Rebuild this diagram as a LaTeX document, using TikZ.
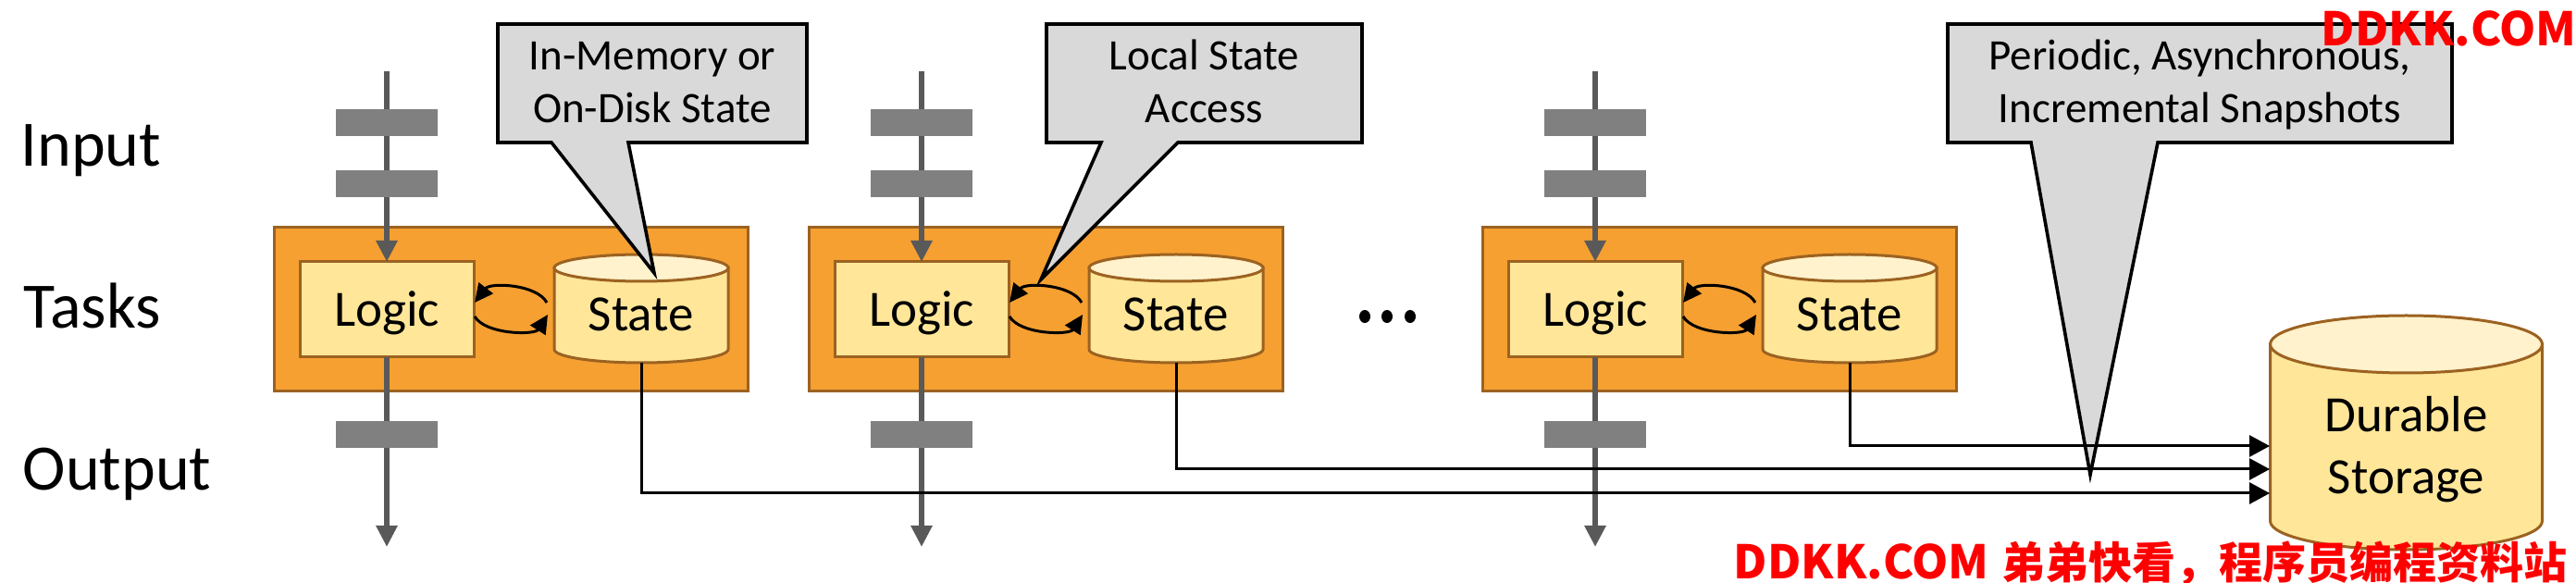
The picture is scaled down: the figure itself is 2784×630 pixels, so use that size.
\documentclass[tikz,border=0pt]{standalone}
\usepackage{fontspec}
\setmainfont{Carlito}
\newfontfamily\cjk{Noto Sans CJK SC}
\usetikzlibrary{arrows.meta}
\definecolor{taskfill}{HTML}{F5A031}
\definecolor{brownline}{HTML}{9C6221}
\definecolor{lightyellow}{HTML}{FFE699}
\definecolor{paleyellow}{HTML}{FFF2CC}
\definecolor{calloutgray}{HTML}{D9D9D9}
\definecolor{bargray}{HTML}{808080}
\definecolor{flowgray}{HTML}{595959}
\definecolor{wmred}{HTML}{FF0000}

% cylinder: centre x, top-ellipse centre y, x radius, y radius, bottom-ellipse centre y
\newcommand{\drum}[5]{%
  \filldraw[drumbody] (#1-#3,#2) -- (#1-#3,#5)
     arc[start angle=180,end angle=0,x radius=#3,y radius=#4] -- (#1+#3,#2) -- cycle;
  \filldraw[drumtop] (#1,#2) ellipse[x radius=#3,y radius=#4];
}

% one task: #1 = left x of the task box, #2 = index
\newcommand{\taskunit}[2]{%
  \pgfmathsetmacro{\tl}{#1}
  \pgfmathsetmacro{\tr}{#1+512}
  \pgfmathsetmacro{\lc}{#1+122}
  \pgfmathsetmacro{\sc}{#1+397}
  \filldraw[taskbox] (\tl,246) rectangle (\tr,423);
  \node[logicbox] (L#2) at (\lc,334.5) {Logic};
  \drum{\sc}{289.5}{94}{14.5}{377.5}
  \node[bigtext, anchor=base] (S#2) at (\sc,358) {State};
  \coordinate (S#2b) at (\sc,392);
  \coordinate (I#2) at (\lc,77);
  \coordinate (O#2) at (\lc,591);
  \coordinate (U#2a) at (#1+295,327);
  \coordinate (U#2b) at (#1+217,327);
  \coordinate (W#2a) at (#1+217,342);
  \coordinate (W#2b) at (#1+296,340);
  \draw[loop] (U#2a) .. controls (#1+284,307) and (#1+234,305) .. (U#2b);
  \draw[loop] (W#2a) .. controls (#1+229,362) and (#1+282,362) .. (W#2b);
  \draw[flow] (I#2) -- (L#2.north);
  \draw[flow] (L#2.south) -- (O#2);
  \fill[bargray] (\lc-55,118) rectangle (\lc+55,147);
  \fill[bargray] (\lc-55,184) rectangle (\lc+55,213);
  \fill[bargray] (\lc-55,455) rectangle (\lc+55,484);
}

\begin{document}
\begin{tikzpicture}[x=0.25pt,y=-0.25pt,
  taskbox/.style={draw=brownline, fill=taskfill, line width=0.75pt},
  logicbox/.style={draw=brownline, fill=lightyellow, line width=0.75pt,
     minimum width=47pt, minimum height=25.75pt, inner sep=0pt, outer sep=0pt,
     text height=8.9pt, text depth=0pt, font=\fontsize{13.75}{16}\selectfont},
  bigtext/.style={inner sep=0pt, font=\fontsize{13.75}{16}\selectfont},
  drumbody/.style={draw=brownline, fill=lightyellow, line width=0.75pt},
  drumtop/.style={draw=brownline, fill=paleyellow, line width=0.75pt},
  loop/.style={draw=black, line width=0.75pt, -{Triangle[length=5pt,width=4.8pt]}},
  flow/.style={draw=flowgray, line width=1.5pt, -{Triangle[length=5.75pt,width=5.5pt]}},
  callout/.style={draw=black, fill=calloutgray, line width=0.9pt, line join=miter},
  callouttext/.style={inner sep=0pt, align=center, font=\fontsize{11.75}{14.25}\selectfont},
  snap/.style={draw=black, line width=0.75pt, -{Triangle[length=5.5pt,width=5.75pt]}},
  lab/.style={inner sep=0pt, font=\fontsize{17.5}{20}\selectfont},
  wm/.style={inner sep=0pt, text=wmred, font=\cjk\bfseries\fontsize{12.5}{13}\selectfont},
  wmc/.style={inner sep=0pt, text=wmred, font=\cjk\bfseries\fontsize{11.75}{12}\selectfont}]
\useasboundingbox (0,0) rectangle (2784,630);

% row labels
\node[lab, anchor=base west] (inp) at (22,180) {Input};
\node[lab, anchor=base west] (tsk) at (25,355) {Tasks};
\node[lab, anchor=base west] (outp) at (24,530) {Output};

% tasks
\taskunit{296}{1}
\taskunit{874}{2}
\taskunit{1602}{3}

% ellipsis between tasks
\fill (1475,342) ellipse[x radius=6,y radius=7];
\fill (1499,342) ellipse[x radius=6,y radius=7];
\fill (1524,342) ellipse[x radius=6,y radius=7];

% durable storage
\drum{2600.5}{372}{147}{31}{563}
\node[bigtext, anchor=base, align=center, font=\fontsize{13.75}{17}\selectfont] (DS) at (2600.5,534) {Durable\\Storage};
\coordinate (D3) at (2453,482);
\coordinate (D2) at (2453,507);
\coordinate (D1) at (2453,533);

% callouts
\filldraw[callout] (538,26) -- (872,26) -- (872,154) -- (679,154) -- (707,295) -- (596,154) -- (538,154) -- cycle;
\node[callouttext, anchor=base] (C1) at (705,133) {In-Memory or\\On-Disk State};
\filldraw[callout] (1131,26) -- (1472,26) -- (1472,154) -- (1273,154) -- (1125,302) -- (1190,154) -- (1131,154) -- cycle;
\node[callouttext, anchor=base] (C2) at (1301.5,133) {Local State\\Access};
\filldraw[callout] (2105,26) -- (2650,26) -- (2650,154) -- (2332,154) -- (2259,513) -- (2195,154) -- (2105,154) -- cycle;
\node[callouttext, anchor=base] (C3) at (2377.5,133) {Periodic, Asynchronous,\\Incremental Snapshots};

% snapshot connectors
\draw[snap] (S3b) |- (D3);
\draw[snap] (S2b) |- (D2);
\draw[snap] (S1b) |- (D1);

% watermark
\node[wm, anchor=base west] (wm1) at (2508,50) {DDKK.COM};
\node[wm, anchor=base west] (wm2) at (1873,626) {DDKK.COM};
\node[wmc, anchor=base west] (wm3) at (2163,626) {弟弟快看，程序员编程资料站};
\end{tikzpicture}
\end{document}
